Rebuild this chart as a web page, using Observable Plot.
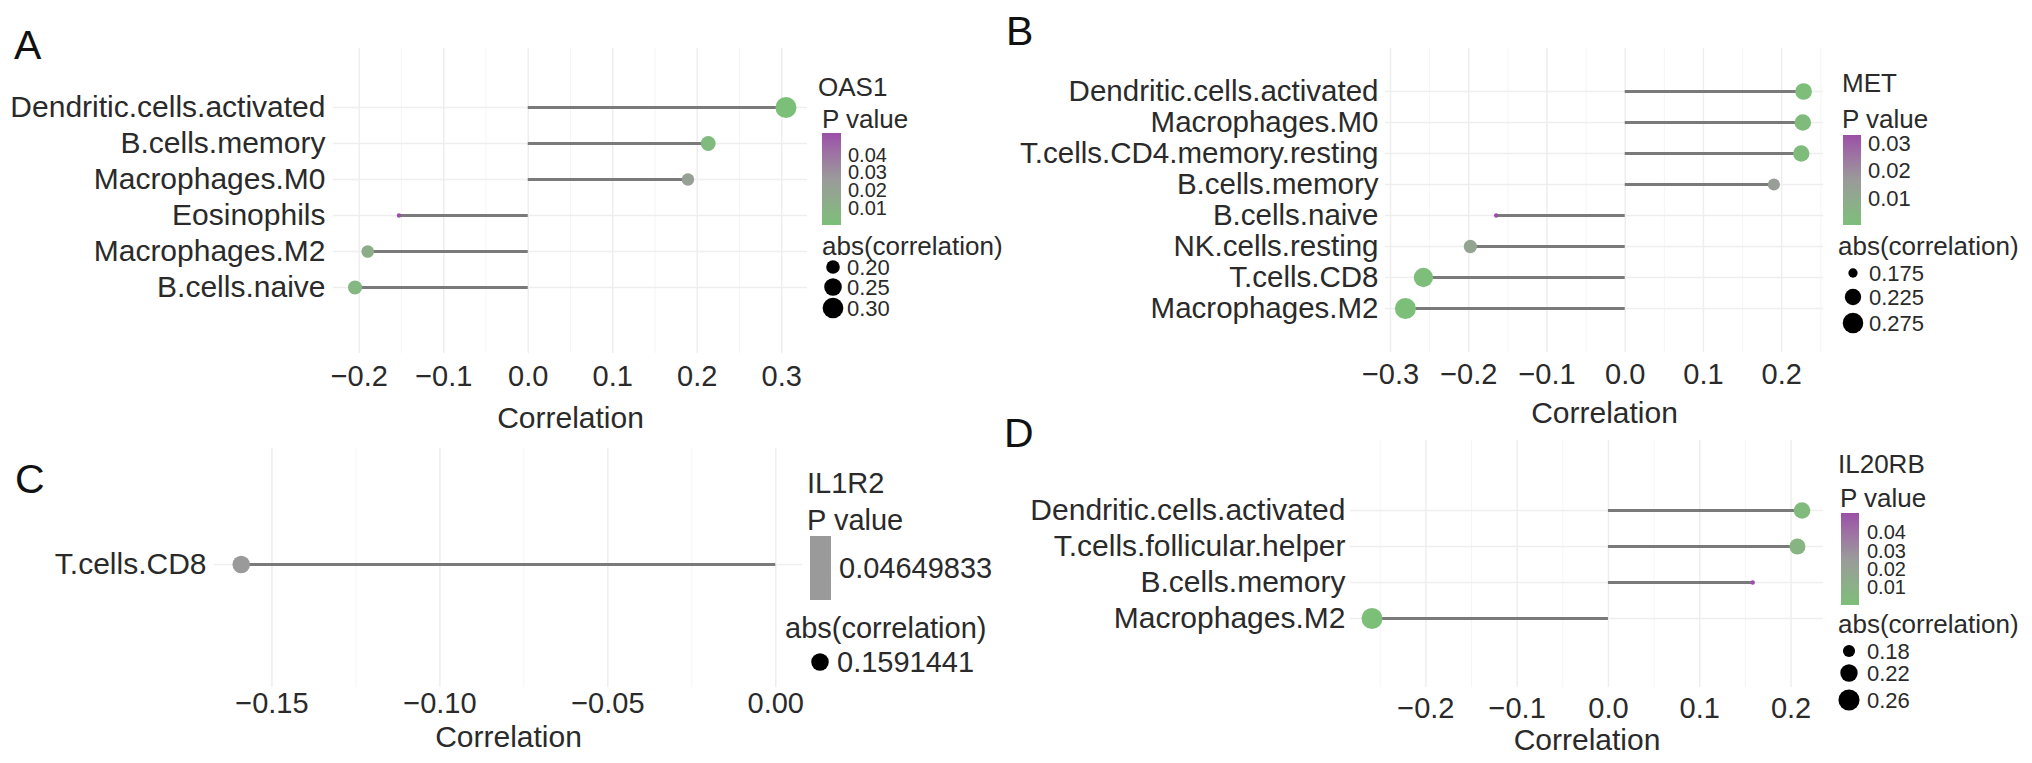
<!DOCTYPE html>
<html>
<head>
<meta charset="utf-8">
<script src="https://cdn.jsdelivr.net/npm/d3@7"></script>
<script src="https://cdn.jsdelivr.net/npm/@observablehq/plot@0.6"></script>
<style>
html,body{margin:0;padding:0;background:#fff;}
#fig{position:relative;width:2032px;height:763px;overflow:hidden;background:#fff;}
#fig > svg{position:absolute;}
</style>
</head>
<body>
<div id="fig"></div>
<script>
// ---------------- DATA ----------------
// Panel A
const geneA = "OAS1";
const catsA = ["Dendritic.cells.activated","B.cells.memory","Macrophages.M0","Eosinophils","Macrophages.M2","B.cells.naive"];
const corrA = [0.305, 0.213, 0.189, -0.153, -0.190, -0.205];
const pA = [0.0004, 0.004, 0.022, 0.052, 0.013, 0.006];
const xTicksA = [-0.2, -0.1, 0.0, 0.1, 0.2, 0.3];
const pBreaksA = ["0.01", "0.02", "0.03", "0.04"];
const sizeBreaksA = ["0.20", "0.25", "0.30"];

// Panel B
const geneB = "MET";
const catsB = ["Dendritic.cells.activated","Macrophages.M0","T.cells.CD4.memory.resting","B.cells.memory","B.cells.naive","NK.cells.resting","T.cells.CD8","Macrophages.M2"];
const corrB = [0.228, 0.227, 0.225, 0.190, -0.165, -0.198, -0.258, -0.281];
const pB = [0.0012, 0.0013, 0.0015, 0.015, 0.033, 0.012, 0.0004, 0.0001];
const xTicksB = [-0.3, -0.2, -0.1, 0.0, 0.1, 0.2];
const pBreaksB = ["0.01", "0.02", "0.03"];
const sizeBreaksB = ["0.175", "0.225", "0.275"];

// Panel C
const geneC = "IL1R2";
const catsC = ["T.cells.CD8"];
const corrC = [-0.1591441];
const pC = [0.04649833];
const xTicksC = [-0.15, -0.10, -0.05, 0.00];
const pBreaksC = ["0.04649833"];
const sizeBreaksC = ["0.1591441"];

// Panel D
const geneD = "IL20RB";
const catsD = ["Dendritic.cells.activated","T.cells.follicular.helper","B.cells.memory","Macrophages.M2"];
const corrD = [0.212, 0.207, 0.158, -0.259];
const pD = [0.004, 0.007, 0.0504, 0.0002];
const xTicksD = [-0.2, -0.1, 0.0, 0.1, 0.2];
const pBreaksD = ["0.01", "0.02", "0.03", "0.04"];
const sizeBreaksD = ["0.18", "0.22", "0.26"];

const axisTitle = "Correlation";
const pTitle = "P value";
const sizeTitle = "abs(correlation)";

// ---------------- STYLE / LAYOUT ----------------
const FONT = '"Liberation Sans", Arial, Helvetica, sans-serif';
const TEXT = "#2a2a2a";
const GREEN = "#7cbf79", GRAY = "#9a9a9a", PURPLE = "#9b4fa8";
const sqrtInterp = (a, b) => t => a + (b - a) * Math.sqrt(Math.max(0, t));

const panels = [
  {id:"A", letter:"A", gene:geneA, cats:catsA, corr:corrA, p:pA, xTicks:xTicksA, pBreaks:pBreaksA, sizeBreaks:sizeBreaksA, fmt:".1f",
   box:{L:0,T:0,W:815,H:440, fx0:333,fx1:807, fy0:48,fy1:353, row0:88,row1:305, tickTop:365, titleY:418, yPad:8, catFont:30, tickFont:29, titleFont:30, rRange:[2.2,10.5]},
   letterPos:[14,59],
   lg:{geneX:818, geneY:96, pX:822, pY:128, bx0:822, bx1:841, by0:133, by1:225, labX:848, sX:822, sY:255, dotX:833, sLabX:847, sYs:[267,287,308], tFont:26, lFont:20, sFont:22}},
  {id:"B", letter:"B", gene:geneB, cats:catsB, corr:corrB, p:pB, xTicks:xTicksB, pBreaks:pBreaksB, sizeBreaks:sizeBreaksB, fmt:".1f",
   box:{L:1010,T:0,W:820,H:440, fx0:1385,fx1:1823, fy0:48,fy1:352, row0:72.7,row1:326.7, tickTop:363, titleY:413, yPad:7, catFont:29.5, tickFont:29, titleFont:30, rRange:[2.2,10.5]},
   letterPos:[1006,45],
   lg:{geneX:1842, geneY:92, pX:1842, pY:128, bx0:1843, bx1:1861, by0:135, by1:225, labX:1868, sX:1838, sY:255, dotX:1853, sLabX:1869, sYs:[273,297,323], tFont:26, lFont:22, sFont:22}},
  {id:"C", letter:"C", gene:geneC, cats:catsC, corr:corrC, p:pC, xTicks:xTicksC, pBreaks:pBreaksC, sizeBreaks:sizeBreaksC, fmt:".2f",
   box:{L:0,T:430,W:810,H:333, fx0:214,fx1:802, fy0:448,fy1:687, row0:564,row1:564, tickTop:692, titleY:737, yPad:8, catFont:30, tickFont:29, titleFont:30, rRange:[2.2,11.5]},
   letterPos:[15,493],
   lg:{geneX:807, geneY:493, pX:807, pY:530, bx0:810, bx1:831, by0:536, by1:600, labX:839, sX:785, sY:638, dotX:820, sLabX:837, sYs:[662], tFont:29, lFont:29, sFont:29}},
  {id:"D", letter:"D", gene:geneD, cats:catsD, corr:corrD, p:pD, xTicks:xTicksD, pBreaks:pBreaksD, sizeBreaks:sizeBreaksD, fmt:".1f",
   box:{L:1010,T:430,W:820,H:333, fx0:1350,fx1:1823, fy0:440,fy1:687, row0:490,row1:637, tickTop:697, titleY:740, yPad:5, catFont:30, tickFont:29, titleFont:30, rRange:[2.2,10.5]},
   letterPos:[1004,447],
   lg:{geneX:1838, geneY:473, pX:1840, pY:507, bx0:1841, bx1:1859, by0:513, by1:605, labX:1867, sX:1838, sY:633, dotX:1849, sLabX:1867, sYs:[651,673,700], tFont:26, lFont:20, sFont:22}}
];

const fig = document.getElementById("fig");
const overlay = d3.create("svg").attr("width", 2032).attr("height", 763)
  .style("left", "0px").style("top", "0px").attr("font-family", FONT);
const defs = overlay.append("defs");

for (const cfg of panels) {
  const b = cfg.box;
  const rows = cfg.cats.map((c, i) => ({cat: c, corr: cfg.corr[i], p: cfg.p[i], abs: Math.abs(cfg.corr[i])}));
  const lo = Math.min(0, d3.min(cfg.corr)), hi = Math.max(0, d3.max(cfg.corr));
  const pad = (hi - lo) * 0.05;
  const xDomain = [lo - pad, hi + pad];
  const [pmin, pmax] = d3.extent(cfg.p);
  const colorDomain = pmin === pmax ? [pmin - 0.01, pmin, pmin + 0.01] : [pmin, (pmin + pmax) / 2, pmax];
  const step = cfg.xTicks[1] - cfg.xTicks[0];
  const minors = [cfg.xTicks[0] - step / 2, ...cfg.xTicks.map(v => v + step / 2)]
    .filter(v => v >= xDomain[0] && v <= xDomain[1]);
  const fmt = d3.format(cfg.fmt);

  const plot = Plot.plot({
    width: b.W, height: b.H,
    marginLeft: b.fx0 - b.L, marginRight: b.L + b.W - b.fx1,
    marginTop: b.fy0 - b.T, marginBottom: b.T + b.H - b.fy1,
    style: {fontFamily: FONT, color: TEXT, background: "transparent", overflow: "visible"},
    x: {domain: xDomain},
    y: {type: "point", domain: cfg.cats, range: [b.row0 - b.T, b.row1 - b.T]},
    r: {type: "linear", domain: d3.extent(rows, d => d.abs), range: b.rRange, interpolate: sqrtInterp},
    color: {type: "linear", domain: colorDomain, range: [GREEN, GRAY, PURPLE], interpolate: "lab"},
    marks: [
      Plot.gridX(minors, {stroke: "#f5f5f5", strokeWidth: 1, strokeOpacity: 1}),
      Plot.gridX(cfg.xTicks, {stroke: "#eeeeee", strokeWidth: 1.5, strokeOpacity: 1}),
      Plot.gridY(cfg.cats, {stroke: "#eeeeee", strokeWidth: 1.5, strokeOpacity: 1}),
      Plot.ruleY(rows, {y: "cat", x1: d => 0, x2: "corr", stroke: "#7a7a7a", strokeWidth: 3}),
      Plot.dot(rows, {x: "corr", y: "cat", r: "abs", fill: "p", stroke: null}),
      Plot.axisX({ticks: cfg.xTicks, tickFormat: fmt, tickSize: 0, tickPadding: b.tickTop - b.fy1, fontSize: b.tickFont, label: null}),
      Plot.axisY({tickSize: 0, tickPadding: b.yPad, fontSize: b.catFont, label: null}),
      Plot.text([axisTitle], {text: d => d, frameAnchor: "bottom", dy: b.titleY - b.fy1, lineAnchor: "middle", fontSize: b.titleFont})
    ]
  });
  plot.style.left = b.L + "px";
  plot.style.top = b.T + "px";
  fig.appendChild(plot);

  // ---- legends (using the plot's own scales) ----
  const color = plot.scale("color");
  const r = plot.scale("r");
  const lg = cfg.lg;
  const g = overlay.append("g").attr("fill", TEXT);
  g.append("text").attr("x", cfg.letterPos[0]).attr("y", cfg.letterPos[1]).attr("font-size", 41).attr("fill", "#111").text(cfg.letter);
  g.append("text").attr("x", lg.geneX).attr("y", lg.geneY).attr("font-size", lg.tFont).text(cfg.gene);
  g.append("text").attr("x", lg.pX).attr("y", lg.pY).attr("font-size", lg.tFont).text(pTitle);
  const gid = "grad" + cfg.id;
  const grad = defs.append("linearGradient").attr("id", gid).attr("x1", 0).attr("y1", 1).attr("x2", 0).attr("y2", 0);
  d3.range(0, 1.0001, 0.05).forEach(t => {
    const v = pmin === pmax ? pmin : pmin + t * (pmax - pmin);
    grad.append("stop").attr("offset", t).attr("stop-color", color.apply(v));
  });
  g.append("rect").attr("x", lg.bx0).attr("y", lg.by0).attr("width", lg.bx1 - lg.bx0).attr("height", lg.by1 - lg.by0)
    .attr("fill", `url(#${gid})`);
  const pos = v => pmin === pmax ? (lg.by0 + lg.by1) / 2 : lg.by1 - (v - pmin) / (pmax - pmin) * (lg.by1 - lg.by0);
  cfg.pBreaks.forEach(s => {
    g.append("text").attr("x", lg.labX).attr("y", pos(+s)).attr("dy", "0.36em").attr("font-size", lg.lFont).text(s);
  });
  g.append("text").attr("x", lg.sX).attr("y", lg.sY).attr("font-size", lg.tFont).text(sizeTitle);
  cfg.sizeBreaks.forEach((s, i) => {
    const y = lg.sYs[i];
    g.append("circle").attr("cx", lg.dotX).attr("cy", y).attr("r", r.apply(+s)).attr("fill", "#000");
    g.append("text").attr("x", lg.sLabX).attr("y", y).attr("dy", "0.36em").attr("font-size", lg.sFont).text(s);
  });
}
fig.appendChild(overlay.node());
</script>
</body>
</html>
